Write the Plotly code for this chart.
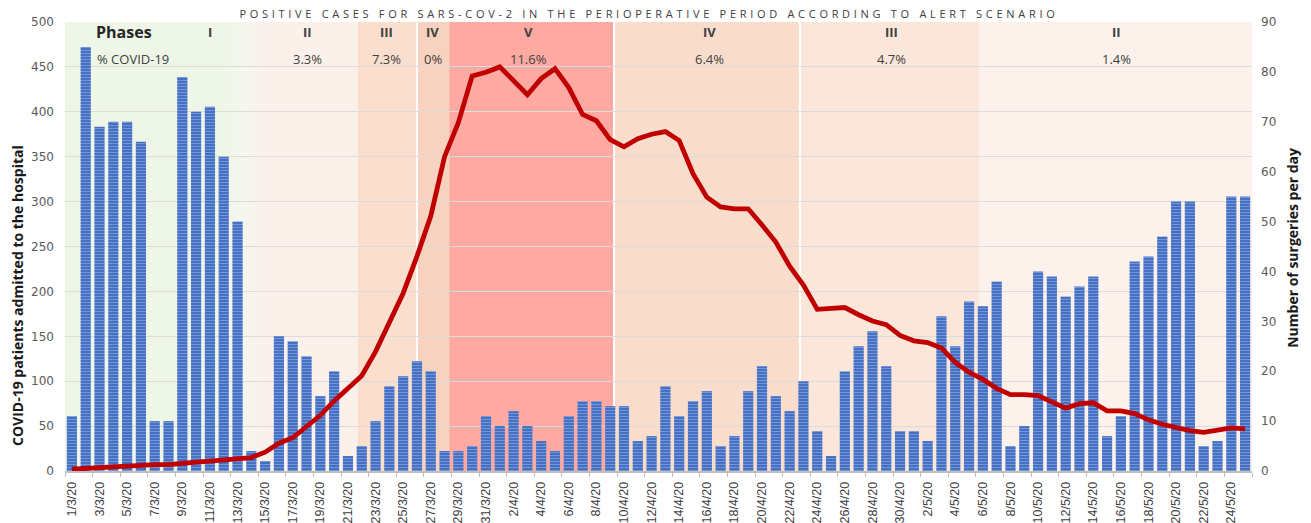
import pandas as pd
import plotly.graph_objects as go

# ---------------- data ----------------
dates = [f"{d.day}/{d.month}/20" for d in pd.date_range("2020-03-01", "2020-05-25")]

surgeries = [
    # March
    11, 85, 69, 70, 70, 66, 10, 10, 79, 72, 73, 63, 50, 4, 2, 27, 26, 23, 15, 20,
    3, 5, 10, 17, 19, 22, 20, 4, 4, 5, 11,
    # April
    9, 12, 9, 6, 4, 11, 14, 14, 13, 13, 6, 7, 17, 11, 14, 16, 5, 7, 16, 21,
    15, 12, 18, 8, 3, 20, 25, 28, 21, 8,
    # May
    8, 6, 31, 25, 34, 33, 38, 5, 9, 40, 39, 35, 37, 39, 7, 11, 42, 43, 47, 54,
    54, 5, 6, 55, 55,
]

covid_patients = [
    # March
    2, 3, 4, 5, 6, 6.5, 7, 7, 9, 10, 11, 12, 13.5, 15, 21, 31, 37, 49, 62, 78,
    92, 106, 133, 166, 198, 239, 284, 350, 388, 440, 444,
    # April
    450, 434, 419, 437, 448, 427, 397, 390, 369, 361, 370, 375, 378, 368, 331,
    305, 294, 292, 292, 274, 255, 228, 207, 180, 181, 182, 174, 167, 163, 151,
    # May
    145, 143, 137, 121, 110, 102, 92, 85, 85, 84, 77, 70, 75, 76, 67, 67, 64,
    57, 52, 48, 45, 43, 45, 48, 47,
]

phase_names = ["I", "II", "III", "IV", "V", "IV", "III", "II"]
phase_pct = ["", "3.3%", "7.3%", "0%", "11.6%", "6.4%", "4.7%", "1.4%"]
phase_bounds = [-0.5, 14.0, 20.7, 25.0, 27.34, 39.28, 52.75, 65.72, 85.5]
phase_label_x = [10.0, 17.1, 22.8, 26.15, 33.1, 46.2, 59.35, 75.7]
phase_colors = ["#EEF6E8", "#FCF0EA", "#FADFCF", "#F7D3BF", "#FFA9A3",
                "#F9DDCC", "#FBE7DA", "#FDF2EB"]

x = list(range(len(dates)))

fig = go.Figure()

# Bars: surgeries per day (right-hand scale)
fig.add_trace(go.Bar(
    x=x, y=surgeries, yaxis="y", width=0.74,
    marker=dict(color="#3F6CC2", line=dict(width=0),
                pattern=dict(shape="-", fgcolor="#A8BFEA", size=3, solidity=0.4)),
    name="Number of surgeries per day", showlegend=False,
))

# Line: COVID-19 patients admitted (left-hand scale)
fig.add_trace(go.Scatter(
    x=x, y=covid_patients, yaxis="y2", mode="lines",
    line=dict(color="#C00000", width=4.8, shape="linear"),
    name="COVID-19 patients admitted to the hospital", showlegend=False,
))

shapes = []
for i, c in enumerate(phase_colors):
    shapes.append(dict(type="rect", xref="x", yref="paper",
                       x0=phase_bounds[i], x1=phase_bounds[i + 1], y0=0, y1=1,
                       fillcolor=c, line=dict(width=0), layer="below"))
# soft gradient transition I -> II
grad = ["#F0F6EA", "#F3F6EC", "#F6F5EE", "#F9F3EE", "#FBF1EC"]
for k, c in enumerate(grad):
    shapes.append(dict(type="rect", xref="x", yref="paper",
                       x0=11.0 + k * 0.6, x1=11.6 + k * 0.6, y0=0, y1=1,
                       fillcolor=c, line=dict(width=0), layer="below"))
for b in [25.0, 39.28, 52.75]:
    shapes.append(dict(type="line", xref="x", yref="paper", x0=b, x1=b, y0=0, y1=1,
                       line=dict(color="white", width=2), layer="below"))

annotations = []
for name, pct, px in zip(phase_names, phase_pct, phase_label_x):
    annotations.append(dict(x=px, y=0.978, xref="x", yref="paper", text=f"<b>{name}</b>",
                            xanchor="center", yanchor="middle",
                            showarrow=False, font=dict(size=13, color="#404040",
                                                       family="Open Sans")))
    if pct:
        annotations.append(dict(x=px, y=0.918, xref="x", yref="paper", text=pct,
                                xanchor="center", yanchor="middle",
                                showarrow=False, font=dict(size=13, color="#404040",
                                                           family="Open Sans")))
annotations.append(dict(x=3.75, y=0.978, xref="x", yref="paper", text="<b>Phases</b>",
                        xanchor="center", yanchor="middle",
                        showarrow=False, font=dict(size=16, color="#262626",
                                                   family="Open Sans")))
annotations.append(dict(x=4.45, y=0.918, xref="x", yref="paper", text="% COVID-19",
                        xanchor="center", yanchor="middle",
                        showarrow=False, font=dict(size=13, color="#404040",
                                                   family="Open Sans")))
annotations.append(dict(x=-0.0395, y=0.39, xref="paper", yref="paper",
                        xanchor="center", yanchor="middle",
                        text="<b>COVID-19 patients admitted to the hospital</b>",
                        textangle=-90, showarrow=False,
                        font=dict(size=14, color="#1a1a1a", family="Open Sans")))
annotations.append(dict(x=1.0345, y=0.497, xref="paper", yref="paper",
                        xanchor="center", yanchor="middle",
                        text="<b>Number of surgeries per day</b>",
                        textangle=-90, showarrow=False,
                        font=dict(size=14, color="#1a1a1a", family="Open Sans")))

fig.update_layout(
    width=1311, height=523,
    margin=dict(l=65, r=59, t=22, b=52, autoexpand=False),
    paper_bgcolor="white", plot_bgcolor="white",
    title=dict(text="POSITIVE CASES FOR SARS-COV-2 IN THE PERIOPERATIVE PERIOD ACCORDING TO ALERT SCENARIO",
               x=0.495, xref="container", xanchor="center",
               y=0.973, yref="container", yanchor="middle",
               font=dict(size=11, color="#404040", family="Open Sans")),
    bargap=0.26,
    shapes=shapes, annotations=annotations,
    xaxis=dict(range=[-0.5, 85.5], tickmode="array", tickvals=x[::2], ticktext=dates[::2],
               tickangle=-90, tickfont=dict(size=12.5, color="#404040", family="Liberation Sans Narrow, Liberation Sans"),
               showgrid=False, zeroline=False, showline=True, linecolor="#BFBFBF", linewidth=1.5,
               ticks="", ticklen=0, automargin=False, ticklabelstandoff=4,
               minor=dict(ticks="outside", tick0=-0.5, dtick=2, ticklen=4,
                          tickcolor="#BFBFBF", showgrid=False)),
    yaxis=dict(range=[0, 90], dtick=10, side="right", showgrid=False, zeroline=False,
               tickfont=dict(size=12, color="#595959", family="DejaVu Sans"),
               ticks="", automargin=False, ticklabelstandoff=8),
    yaxis2=dict(range=[0, 500], dtick=50, side="left", overlaying="y", showgrid=True,
                gridcolor="#DCDCDC", gridwidth=1, zeroline=False,
                tickfont=dict(size=12, color="#595959", family="DejaVu Sans"),
                ticks="", automargin=False, ticklabelstandoff=10),
)

post = ("document.body.style.margin='0';"
        "document.querySelectorAll('.gtitle').forEach(function(e){"
        "e.style.letterSpacing='3.7px';});")
fig.write_html("out.html", post_script=post, config={"displayModeBar": False})
